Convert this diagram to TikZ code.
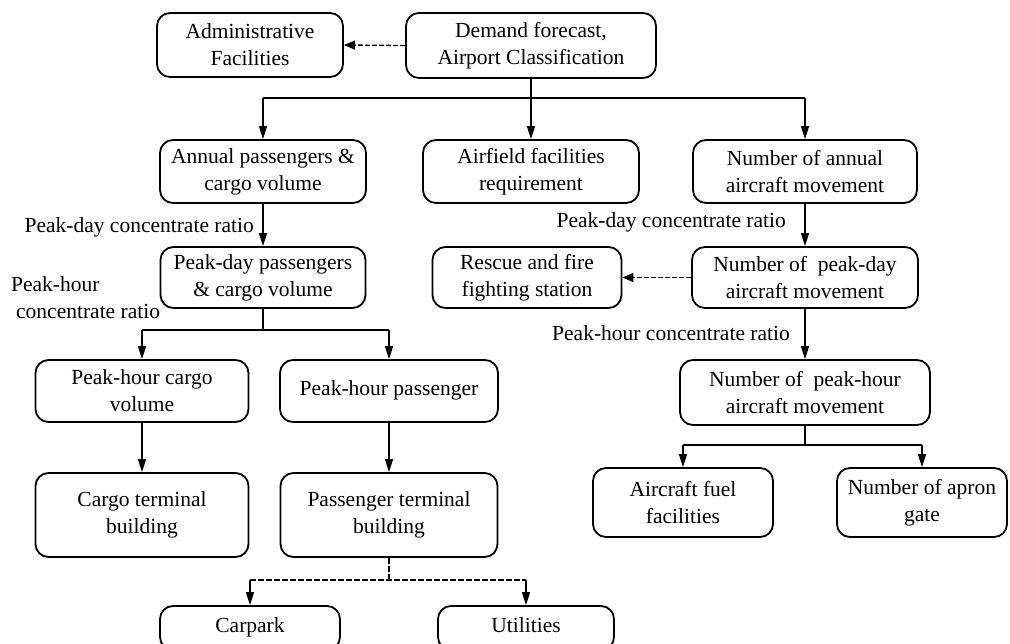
\documentclass[tikz,border=0pt]{standalone}
\usepackage{fontspec}
\setmainfont{Liberation Serif}
\usetikzlibrary{arrows.meta}

\tikzset{
  box/.style={draw, line width=1.8pt, rounded corners=13pt, align=center,
    inner sep=0pt, font=\fontsize{21.5}{27}\selectfont},
  lbl/.style={inner sep=0pt, align=left, font=\fontsize{21.5}{27}\selectfont},
  oneline/.style={text height=14pt, text depth=5pt},
  link/.style={line width=1.3pt},
  arr/.style={link, -{Triangle[length=13pt,width=8pt]}},
  darr/.style={link, dashed, dash pattern=on 5pt off 2pt, -{Triangle[length=11pt,width=9pt]}},
}

\begin{document}
\begin{tikzpicture}[x=1pt,y=-1pt]
\useasboundingbox[fill=white] (0,0) rectangle (1010,643);

% top row
\node[box, minimum width=186pt, minimum height=64pt] (admin) at (250,45)
  {Administrative\\Facilities};
\node[box, minimum width=250pt, minimum height=65pt] (demand) at (531,45.5)
  {Demand forecast,\\Airport Classification};

% second row
\node[box, minimum width=206pt, minimum height=63pt] (annual) at (263,171.5)
  {Annual passengers \&\\cargo volume};
\node[box, minimum width=216pt, minimum height=63pt] (airfield) at (531,171.5)
  {Airfield facilities\\requirement};
\node[box, minimum width=224pt, minimum height=63pt] (nannual) at (805,171.5)
  {Number of annual\\aircraft movement};

% third row
\node[box, minimum width=205pt, minimum height=61pt] (peakday) at (263,277.5)
  {Peak-day passengers\\\& cargo volume};
\node[box, minimum width=189pt, minimum height=61pt] (rescue) at (527,277.5)
  {Rescue and fire\\fighting station};
\node[box, minimum width=226pt, minimum height=61pt] (npeakday) at (805,277.5)
  {Number of \ peak-day\\aircraft movement};

% fourth row
\node[box, minimum width=213pt, minimum height=62pt] (phcargo) at (142,391)
  {Peak-hour cargo\\volume};
\node[box, oneline, minimum width=218pt, minimum height=62pt] (phpass) at (389,391)
  {Peak-hour passenger};
\node[box, minimum width=250pt, minimum height=65pt] (npeakhour) at (805,392.5)
  {Number of \ peak-hour\\aircraft movement};

% fifth row
\node[box, minimum width=213pt, minimum height=84pt] (cargoterm) at (142,515)
  {Cargo terminal\\building};
\node[box, minimum width=217pt, minimum height=84pt] (passterm) at (389,515)
  {Passenger terminal\\building};
\node[box, minimum width=180pt, minimum height=69pt] (fuel) at (683,502.5)
  {Aircraft fuel\\facilities};
\node[box, minimum width=170pt, minimum height=69pt] (apron) at (922,502.5)
  {Number of apron\\gate};

% bottom row
\node[box, oneline, minimum width=180pt, minimum height=44pt] (carpark) at (250,628)
  {Carpark};
\node[box, oneline, minimum width=176pt, minimum height=44pt] (utilities) at (526,628)
  {Utilities};

% ratio labels
\node[lbl, anchor=east] (lpd) at (254,227) {Peak-day concentrate ratio};
\node[lbl, anchor=north west] (lph) at (11,276)
  {Peak-hour\\\hspace*{5pt}concentrate ratio};
\node[lbl, anchor=east] (rpd) at (786,222) {Peak-day concentrate ratio};
\node[lbl, anchor=east] (rph) at (790,333) {Peak-hour concentrate ratio};

% branch points
\coordinate (j) at (531,98);
\coordinate (k) at (263,330);
\coordinate (m) at (389,580);
\coordinate (n) at (805,445);

% connectors from the forecast box
\draw[darr] (demand.west) -- (admin.east);
\draw[arr] (demand.south) -- (airfield.north);
\draw[link] (annual.north |- j) -- (nannual.north |- j);
\draw[arr] (annual.north |- j) -- (annual.north);
\draw[arr] (nannual.north |- j) -- (nannual.north);

% passenger and cargo chain
\draw[arr] (annual) -- (peakday);
\draw[link] (peakday.south) -- (k);
\draw[link] (phcargo.north |- k) -- (phpass.north |- k);
\draw[arr] (phcargo.north |- k) -- (phcargo.north);
\draw[arr] (phpass.north |- k) -- (phpass.north);
\draw[arr] (phcargo) -- (cargoterm);
\draw[arr] (phpass) -- (passterm);
\draw[link, dashed, dash pattern=on 6pt off 2pt] (passterm.south) -- (m);
\draw[link, dashed, dash pattern=on 6pt off 2pt] (carpark.north |- m) -- (utilities.north |- m);
\draw[arr] (carpark.north |- m) -- (carpark.north);
\draw[arr] (utilities.north |- m) -- (utilities.north);

% aircraft movement chain
\draw[arr] (nannual) -- (npeakday);
\draw[darr] (npeakday.west) -- (rescue.east);
\draw[arr] (npeakday) -- (npeakhour);
\draw[link] (npeakhour.south) -- (n);
\draw[link] (fuel.north |- n) -- (apron.north |- n);
\draw[arr] (fuel.north |- n) -- (fuel.north);
\draw[arr] (apron.north |- n) -- (apron.north);
\end{tikzpicture}
\end{document}
